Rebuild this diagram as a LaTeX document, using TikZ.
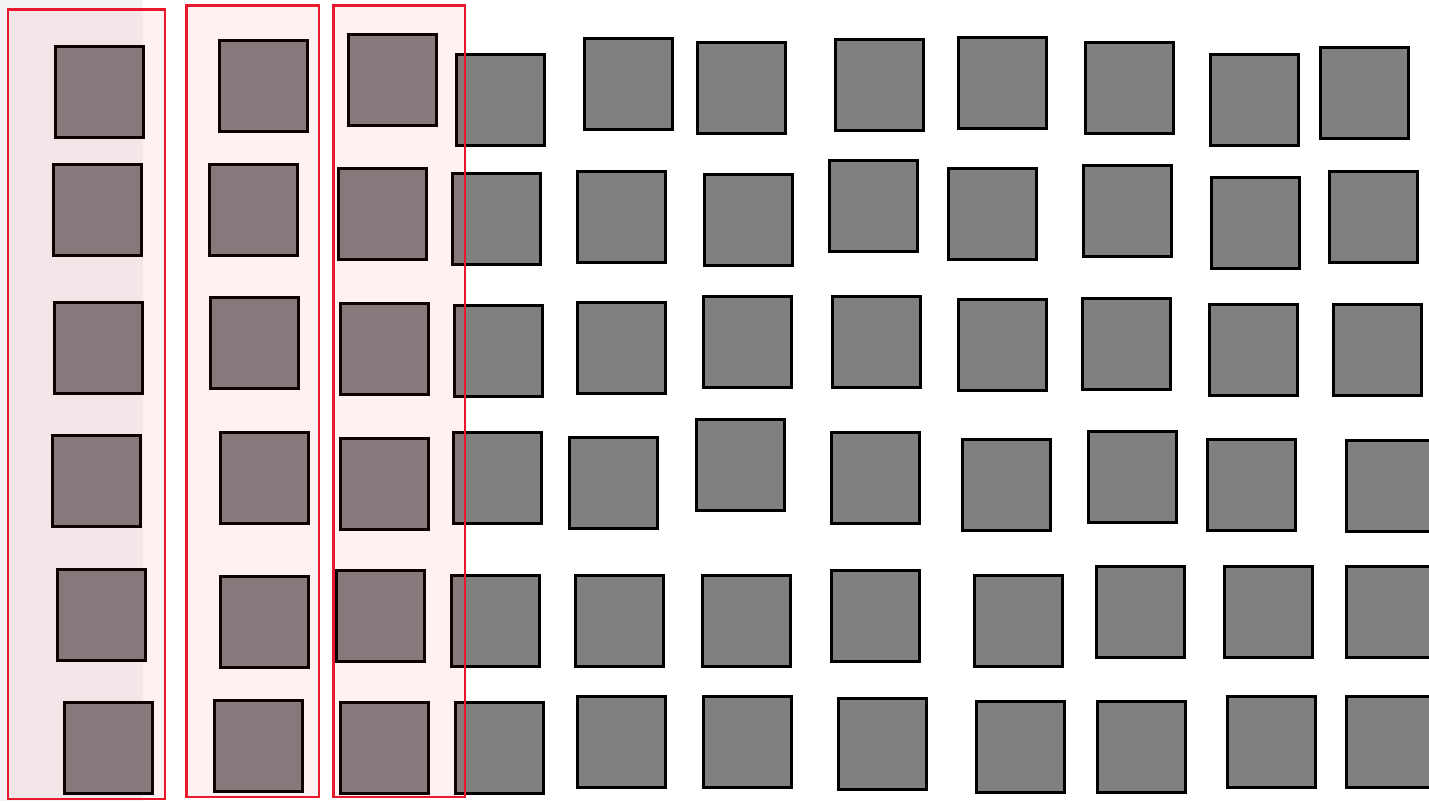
\documentclass[tikz,border=0pt]{standalone}
\definecolor{sqgray}{RGB}{128,128,128}
\definecolor{bandred}{RGB}{232,25,44}
\definecolor{patch}{RGB}{244,243,244}
\tikzset{
  sq/.style={fill=sqgray, draw=black, line width=3pt},
  band/.style={draw=bandred, line width=2.5pt, fill=bandred, fill opacity=0.06}
}
\begin{document}
\begin{tikzpicture}[x=1pt,y=-1pt]
\useasboundingbox (0,0) rectangle (1429,801);
\clip (0,0) rectangle (1429,801);
\fill[white] (0,0) rectangle (1429,801);
\fill[patch] (0,0) rectangle (143,801);
% squares: top-left corners (outer edge)
\foreach \x/\y in {
  54/45, 218/39, 347/33, 455/53, 583/37, 696/41, 834/38, 957/36, 1084/41, 1209/53, 1319/46,
  52/163, 208/163, 337/167, 451/172, 576/170, 703/173, 828/159, 947/167, 1082/164, 1210/176, 1328/170,
  53/301, 209/296, 339/302, 453/304, 576/301, 702/295, 831/295, 957/298, 1081/297, 1208/303, 1332/303,
  51/434, 219/431, 339/437, 452/431, 568/436, 695/418, 830/431, 961/438, 1087/430, 1206/438, 1345/439,
  56/568, 219/575, 335/569, 450/574, 574/574, 701/574, 830/569, 973/574, 1095/565, 1223/565, 1345/565,
  63/701, 213/699, 339/701, 454/701, 576/695, 702/695, 837/697, 975/700, 1096/700, 1226/695, 1345/695}
{
  \draw[sq] (\x+1.5,\y+1.5) rectangle (\x+91-1.5,\y+94-1.5);
}
% highlighted column bands
\draw[band] (8,9.5) rectangle (165,799);
\draw[band] (186.5,5.5) rectangle (319,797);
\draw[band] (333.5,5.5) rectangle (465,797);
\end{tikzpicture}
\end{document}
